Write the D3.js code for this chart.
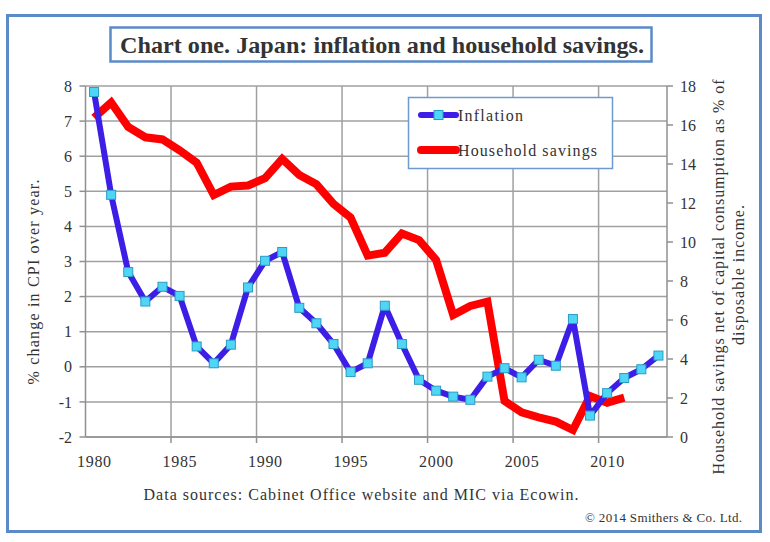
<!DOCTYPE html>
<html><head><meta charset="utf-8">
<script src="https://cdn.jsdelivr.net/npm/d3@7"></script>
<style>body{margin:0;background:#fff}svg{display:block}text{font-family:"Liberation Serif","DejaVu Serif",serif}</style>
</head><body>
<svg id="c" width="770" height="542"></svg>
<script>
const years = d3.range(1980, 2014);
const inflation = [7.83,4.9,2.7,1.86,2.28,2.02,0.58,0.1,0.63,2.26,3.02,3.27,1.68,1.24,0.65,-0.15,0.1,1.74,0.65,-0.37,-0.68,-0.85,-0.94,-0.28,-0.04,-0.3,0.2,0.03,1.36,-1.39,-0.75,-0.32,-0.07,0.32];
const savings = [16.37,17.15,15.9,15.37,15.26,14.7,14.07,12.41,12.84,12.9,13.27,14.26,13.44,12.96,11.95,11.25,9.3,9.45,10.44,10.1,9.08,6.26,6.72,6.94,1.85,1.26,1.01,0.79,0.36,2.1,1.76,2.02];
const leftTicks = [-2,-1,0,1,2,3,4,5,6,7,8];
const rightTicks = [0,2,4,6,8,10,12,14,16,18];
const xLabels = [1980,1985,1990,1995,2000,2005,2010];

const svg = d3.select("#c");
const L = 85.5, R = 667, T = 86, B = 437;

svg.append("rect").attr("x",7.5).attr("y",15.5).attr("width",753).attr("height",516)
  .attr("fill","#fff").attr("stroke","#5b8ac8").attr("stroke-width",3);

const x = d3.scaleBand().domain(years).range([L,R]).paddingInner(0).paddingOuter(0);
const yL = d3.scaleLinear().domain([-2,8]).range([B,T]);
const yR = d3.scaleLinear().domain([0,18]).range([B,T]);
const cx = d => x(d) + x.bandwidth()/2;

const g = svg.append("g");
g.selectAll(".hg").data(leftTicks).join("line")
  .attr("x1",L).attr("x2",R).attr("y1",d=>yL(d)).attr("y2",d=>yL(d))
  .attr("stroke","#a0a0a0").attr("stroke-width",1.5);
const vb = xLabels.slice(1).map(d=>x(d));
g.selectAll(".vg").data(vb).join("line")
  .attr("x1",d=>d).attr("x2",d=>d).attr("y1",T).attr("y2",B)
  .attr("stroke","#a0a0a0").attr("stroke-width",1.5);

g.append("line").attr("x1",L).attr("x2",L).attr("y1",T).attr("y2",B).attr("stroke","#909090").attr("stroke-width",1.5);
g.append("line").attr("x1",R).attr("x2",R).attr("y1",T).attr("y2",B).attr("stroke","#909090").attr("stroke-width",1.5);
g.append("line").attr("x1",L).attr("x2",R).attr("y1",B).attr("y2",B).attr("stroke","#909090").attr("stroke-width",1.5);

g.selectAll(".lt").data(leftTicks).join("line")
  .attr("x1",L-6).attr("x2",L).attr("y1",d=>yL(d)).attr("y2",d=>yL(d)).attr("stroke","#909090").attr("stroke-width",1.5);
g.selectAll(".ll").data(leftTicks).join("text")
  .attr("x",72).attr("y",d=>yL(d)).attr("dy","0.35em").attr("text-anchor","end")
  .attr("font-size",16).attr("fill","#333").text(d=>d);
g.selectAll(".rt").data(rightTicks).join("line")
  .attr("x1",R).attr("x2",R+6).attr("y1",d=>yR(d)).attr("y2",d=>yR(d)).attr("stroke","#909090").attr("stroke-width",1.5);
g.selectAll(".rl").data(rightTicks).join("text")
  .attr("x",680).attr("y",d=>yR(d)).attr("dy","0.35em").attr("text-anchor","start")
  .attr("font-size",16).attr("fill","#333").text(d=>d);
g.selectAll(".bt").data(vb).join("line")
  .attr("x1",d=>d).attr("x2",d=>d).attr("y1",B).attr("y2",B+6).attr("stroke","#909090").attr("stroke-width",1.5);
g.selectAll(".bl").data(xLabels).join("text")
  .attr("x",d=>cx(d)).attr("y",461).attr("dy","0.35em").attr("text-anchor","middle")
  .attr("font-size",16).attr("fill","#333").attr("textLength",34).attr("lengthAdjust","spacing").text(d=>d);

const sl = d3.line().x((d,i)=>cx(years[i])).y(d=>yR(d));
g.append("path").attr("d",sl(savings)).attr("fill","none").attr("stroke","#ff0000")
  .attr("stroke-width",8).attr("stroke-linejoin","miter");
const il = d3.line().x((d,i)=>cx(years[i])).y(d=>yL(d));
g.append("path").attr("d",il(inflation)).attr("fill","none").attr("stroke","#3c1ee6")
  .attr("stroke-width",6).attr("stroke-linejoin","round");
g.selectAll(".mk").data(inflation).join("rect")
  .attr("x",(d,i)=>cx(years[i])-4.5).attr("y",d=>yL(d)-4.5).attr("width",9).attr("height",9)
  .attr("fill","#4fd6f6").attr("stroke","#2a9cc4").attr("stroke-width",1);

const lg = svg.append("g");
lg.append("rect").attr("x",408.5).attr("y",97.5).attr("width",204).attr("height",71)
  .attr("fill","#fff").attr("stroke","#6d9bd0").attr("stroke-width",1.5);
lg.append("line").attr("x1",421).attr("x2",456).attr("y1",115).attr("y2",115)
  .attr("stroke","#3c1ee6").attr("stroke-width",6).attr("stroke-linecap","round");
lg.append("rect").attr("x",434).attr("y",110.5).attr("width",9).attr("height",9)
  .attr("fill","#4fd6f6").attr("stroke","#2a9cc4");
lg.append("text").attr("x",458).attr("y",115).attr("dy","0.35em").attr("font-size",16).attr("fill","#333")
  .attr("textLength",65).attr("lengthAdjust","spacing").text("Inflation");
lg.append("line").attr("x1",421).attr("x2",456).attr("y1",150).attr("y2",150)
  .attr("stroke","#ff0000").attr("stroke-width",8).attr("stroke-linecap","round");
lg.append("text").attr("x",458).attr("y",150).attr("dy","0.35em").attr("font-size",16).attr("fill","#333")
  .attr("textLength",139).attr("lengthAdjust","spacing").text("Household savings");

svg.append("rect").attr("x",110.5).attr("y",27.5).attr("width",541).attr("height",34)
  .attr("fill","#fff").attr("stroke","#5b8ac8").attr("stroke-width",2.5);
svg.append("text").attr("x",382).attr("y",45).attr("dy","0.35em").attr("text-anchor","middle")
  .attr("font-size",23).attr("font-weight","bold").attr("fill","#333")
  .attr("textLength",524).attr("lengthAdjust","spacingAndGlyphs")
  .text("Chart one. Japan: inflation and household savings.");

svg.append("text").attr("transform","translate(33,282) rotate(-90)").attr("text-anchor","middle")
  .attr("dy","0.35em").attr("font-size",16).attr("fill","#333")
  .attr("textLength",205).attr("lengthAdjust","spacing").text("% change in CPI over year.");
svg.append("text").attr("transform","translate(718,277) rotate(-90)").attr("text-anchor","middle")
  .attr("dy","0.35em").attr("font-size",16).attr("fill","#333")
  .attr("textLength",395).attr("lengthAdjust","spacing").text("Household savings net of capital consumption as % of");
svg.append("text").attr("transform","translate(738,275) rotate(-90)").attr("text-anchor","middle")
  .attr("dy","0.35em").attr("font-size",16).attr("fill","#333")
  .attr("textLength",140).attr("lengthAdjust","spacing").text("disposable income.");

svg.append("text").attr("x",361).attr("y",494).attr("dy","0.35em").attr("text-anchor","middle")
  .attr("font-size",16).attr("fill","#333")
  .attr("textLength",435).attr("lengthAdjust","spacing").text("Data sources: Cabinet Office website and MIC via Ecowin.");
svg.append("text").attr("x",742).attr("y",517).attr("dy","0.35em").attr("text-anchor","end")
  .attr("font-size",13).attr("fill","#333")
  .attr("textLength",157).attr("lengthAdjust","spacing").text("© 2014 Smithers & Co. Ltd.");
</script>
</body></html>
